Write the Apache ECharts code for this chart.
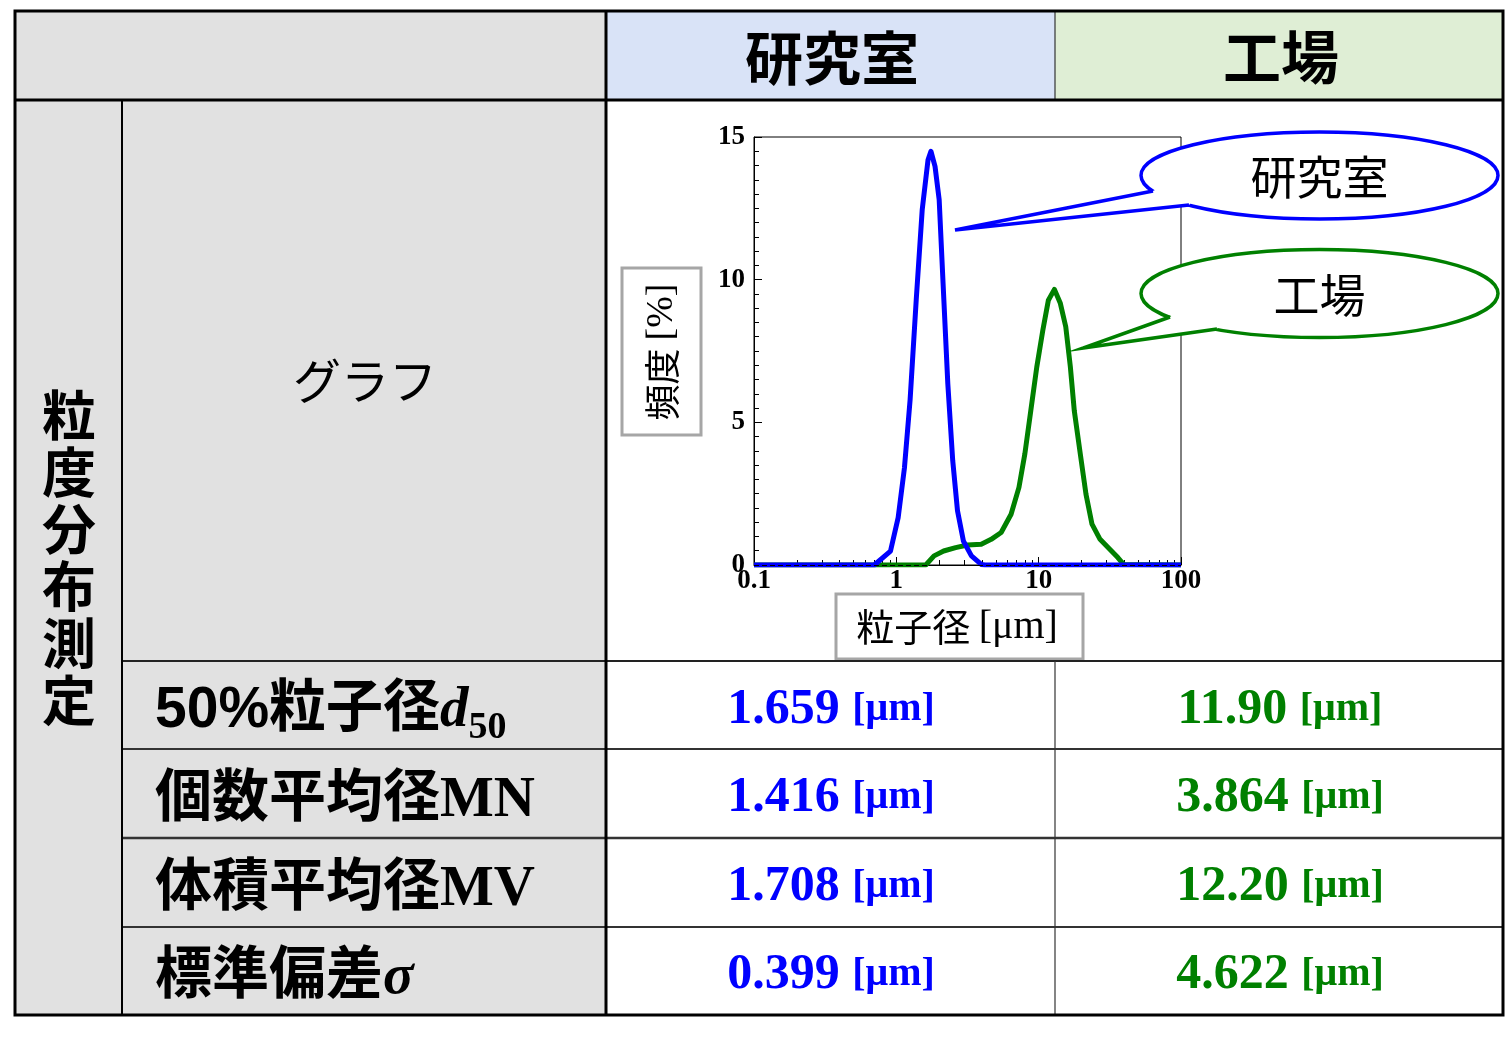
<!DOCTYPE html>
<html><head><meta charset="utf-8">
<script src="https://cdn.jsdelivr.net/npm/echarts@6/dist/echarts.min.js"></script>
<style>html,body{margin:0;padding:0;background:#fff}#c{width:1508px;height:1042px}</style>
</head><body><div id="c"></div>
<script>
// ---------------- data ----------------
const columnHeaders = ['研究室', '工場'];
const groupLabel = '粒度分布測定';
const graphLabel = 'グラフ';
const rowLabels = [
  '{n|50%}{k|粒子径}{i|d}{s|50}',
  '{k|個数平均径}{r|MN}',
  '{k|体積平均径}{r|MV}',
  '{k|標準偏差}{i|σ}'
];
const labValues = ['1.659', '1.416', '1.708', '0.399'];
const factoryValues = ['11.90', '3.864', '12.20', '4.622'];
const valueUnit = '[μm]';

const xAxisTitle = ['粒子径', '[μm]'];
const yAxisTitle = ['頻度', '[%]'];
const xTickValues = [0.1, 1, 10, 100];
const xMinorTickValues = [0.2,0.3,0.4,0.5,0.6,0.7,0.8,0.9,2,3,4,5,6,7,8,9,20,30,40,50,60,70,80,90];
const yTickValues = [0, 5, 10, 15];

// 研究室 (lab) distribution
const labSize = [0.1, 0.5, 0.70, 0.91, 1.03, 1.14, 1.25, 1.38, 1.52, 1.67, 1.75, 1.87, 2.0, 2.13, 2.30, 2.49, 2.69, 2.96, 3.37, 3.95, 4.2, 100];
const labFreq = [0, 0, 0, 0.49, 1.66, 3.4, 5.8, 9.3, 12.45, 14.2, 14.5, 13.97, 12.8, 9.87, 6.35, 3.66, 1.9, 0.84, 0.32, 0.02, 0, 0];
// 工場 (factory) distribution
const factorySize = [0.1, 1.61, 1.84, 2.15, 2.61, 3.16, 3.95, 4.64, 5.45, 6.4, 7.27, 8.0, 8.8, 9.7, 10.7, 11.7, 12.9, 14.2, 15.5, 16.7, 17.8, 19.6, 21.5, 23.7, 27.0, 31.6, 36, 39.5, 100];
const factoryFreq = [0, 0, 0.32, 0.49, 0.61, 0.70, 0.73, 0.90, 1.14, 1.78, 2.72, 3.9, 5.4, 6.94, 8.23, 9.28, 9.66, 9.17, 8.35, 6.94, 5.4, 3.9, 2.48, 1.43, 0.90, 0.55, 0.26, 0.02, 0];

// ---------------- styling / layout ----------------
const BLUE = '#0000ff', GREEN = '#008000';
const CJK = '"Noto Sans CJK JP"';
const SERIF = '"Liberation Serif", "Times New Roman", serif';
const GRAY_BG = '#e1e1e1', BLUE_BG = '#d9e3f7', GREEN_BG = '#dfeed5';

const g = [];
function rect(x, y, w, h, fill, z) { g.push({ type: 'rect', z: z || 1, silent: true, shape: { x, y, width: w, height: h }, style: { fill, stroke: null } }); }
function line(x1, y1, x2, y2, w, col) { g.push({ type: 'line', z: 60, silent: true, shape: { x1, y1, x2, y2 }, style: { stroke: col || '#000', lineWidth: w } }); }
function text(x, y, t, style, extra) {
  g.push(Object.assign({ type: 'text', z: 70, silent: true, x, y,
    style: Object.assign({ text: t, fill: '#000', align: 'center', verticalAlign: 'middle' }, style) }, extra || {}));
}

// backgrounds
rect(15, 11, 591, 89, GRAY_BG);
rect(606, 11, 449, 89, BLUE_BG);
rect(1055, 11, 448, 89, GREEN_BG);
rect(15, 100, 591, 915, GRAY_BG);

// table lines
line(122, 661, 1503, 661, 2, '#222');
line(122, 749, 1503, 749, 2, '#333');
line(122, 838, 1503, 838, 2.5, '#333');
line(122, 927, 1503, 927, 2, '#333');
line(1055, 11, 1055, 100, 1.2, '#333');
line(1055, 661, 1055, 1015, 1.2, '#333');
line(122, 100, 122, 1015, 2, '#000');
line(15, 100, 1503, 100, 3, '#000');
line(606, 11, 606, 1015, 3, '#000');
g.push({ type: 'rect', z: 61, silent: true, shape: { x: 15, y: 11, width: 1488, height: 1004 }, style: { fill: null, stroke: '#000', lineWidth: 3 } });

// header texts
text(832, 58, columnHeaders[0], { font: 'bold 58px ' + CJK });
text(1281, 57, columnHeaders[1], { font: 'bold 58px ' + CJK });
text(365, 381, graphLabel, { font: '48px ' + CJK });
text(69, 558, groupLabel.split('').join('\n'), { font: 'bold 54px ' + CJK, lineHeight: 57 });

// row labels
const rowCenters = [717, 807, 896, 984];
const richLabel = {
  n: { fontFamily: '"Liberation Sans", Arial, sans-serif', fontWeight: 'bold', fontSize: 57, lineHeight: 60, verticalAlign: 'bottom', padding: [0, 0, 7, 0] },
  k: { fontFamily: CJK, fontWeight: 'bold', fontSize: 57, lineHeight: 60, verticalAlign: 'bottom', padding: [0, 0, 14, 0] },
  i: { fontFamily: SERIF, fontWeight: 'bold', fontStyle: 'italic', fontSize: 57, lineHeight: 60, verticalAlign: 'bottom', padding: [0, 0, 7, 0] },
  r: { fontFamily: SERIF, fontWeight: 'bold', fontSize: 57, lineHeight: 60, verticalAlign: 'bottom', padding: [0, 0, 7, 0] },
  s: { fontFamily: SERIF, fontWeight: 'bold', fontSize: 38, lineHeight: 40, verticalAlign: 'bottom' }
};
rowLabels.forEach((t, i) => {
  text(155, rowCenters[i], t, { align: 'left', rich: richLabel });
});

// values
function valueRich(col) {
  return {
    v: { fontFamily: SERIF, fontWeight: 'bold', fontSize: 50, fill: col },
    u: { fontFamily: SERIF, fontWeight: 'bold', fontSize: 40, fill: col }
  };
}
const valueCenters = [710, 798, 887, 975];
labValues.forEach((v, i) => text(831, valueCenters[i], '{v|' + v + ' }{u|' + valueUnit + '}', { rich: valueRich(BLUE) }));
factoryValues.forEach((v, i) => text(1280, valueCenters[i], '{v|' + v + ' }{u|' + valueUnit + '}', { rich: valueRich(GREEN) }));

// axis title boxes
g.push({ type: 'rect', z: 50, silent: true, shape: { x: 622, y: 268, width: 79, height: 167 }, style: { fill: '#fff', stroke: '#a6a6a6', lineWidth: 3 } });
text(662, 352, '{k|' + yAxisTitle[0] + ' }{r|' + yAxisTitle[1] + '}', { rich: { k: { fontFamily: CJK, fontSize: 36 }, r: { fontFamily: SERIF, fontSize: 38 } } }, { rotation: Math.PI / 2 });
g.push({ type: 'rect', z: 50, silent: true, shape: { x: 836, y: 594, width: 247, height: 65 }, style: { fill: '#fff', stroke: '#a6a6a6', lineWidth: 3 } });
text(957, 627, '{k|' + xAxisTitle[0] + ' }{r|' + xAxisTitle[1] + '}', { rich: { k: { fontFamily: CJK, fontSize: 38 }, r: { fontFamily: SERIF, fontSize: 40 } } });

// speech bubbles
function bubble(cx, cy, rx, ry, tip, b1, b2, col, label) {
  g.push({ type: 'ellipse', z: 100, silent: true, shape: { cx, cy, rx, ry }, style: { fill: '#fff', stroke: col, lineWidth: 3.5 } });
  const in1 = [b1[0] + (cx - b1[0]) * 0.06, b1[1] + (cy - b1[1]) * 0.3];
  const in2 = [b2[0] + (cx - b2[0]) * 0.06, b2[1] + (cy - b2[1]) * 0.3];
  g.push({ type: 'polygon', z: 101, silent: true, shape: { points: [tip, b1, in1, in2, b2] }, style: { fill: '#fff', stroke: null } });
  g.push({ type: 'polyline', z: 102, silent: true, shape: { points: [b1, tip, b2] }, style: { fill: null, stroke: col, lineWidth: 3.5, lineJoin: 'miter' } });
  g.push({ type: 'text', z: 103, silent: true, x: cx, y: cy + 1, style: { text: label, font: '46px ' + CJK, fill: '#000', align: 'center', verticalAlign: 'middle' } });
}
bubble(1319.5, 175.5, 178.5, 43.5, [955, 230], [1153, 191], [1189, 205], BLUE, columnHeaders[0]);
bubble(1319.5, 293.5, 178.5, 44, [1083, 348], [1170, 317], [1217, 329], GREEN, columnHeaders[1]);

// ---------------- chart ----------------
const zip = (xs, ys) => xs.map((x, i) => [x, ys[i]]);
const tickFont = { fontFamily: SERIF, fontWeight: 'bold', fontSize: 27, color: '#000' };

const chart = echarts.init(document.getElementById('c'), null, { renderer: 'canvas' });
chart.setOption({
  animation: false,
  backgroundColor: '#fff',
  grid: { left: 754, top: 137, width: 427, height: 428, show: true, borderColor: '#000', borderWidth: 1, backgroundColor: 'transparent', containLabel: false, outerBoundsMode: 'none' },
  xAxis: [
    { type: 'log', logBase: 10, min: 0.1, max: 100, position: 'bottom',
      axisLine: { show: true, lineStyle: { color: '#000', width: 1 } },
      axisTick: { show: true, inside: true, length: 8, lineStyle: { color: '#000' }, customValues: xTickValues },
      axisLabel: { show: true, margin: 3, ...tickFont, customValues: xTickValues, formatter: v => String(+(+v).toPrecision(3)) },
      splitLine: { show: false }, minorTick: { show: false } },
    { type: 'log', logBase: 10, min: 0.1, max: 100, position: 'bottom',
      axisLine: { show: false },
      axisTick: { show: true, inside: true, length: 5, lineStyle: { color: '#000' }, customValues: xMinorTickValues },
      axisLabel: { show: false }, splitLine: { show: false } }
  ],
  yAxis: {
    type: 'value', min: yTickValues[0], max: yTickValues[yTickValues.length - 1], interval: 5,
    axisLine: { show: true, lineStyle: { color: '#000', width: 1 } },
    axisTick: { show: true, inside: true, length: 8, lineStyle: { color: '#000' } },
    minorTick: { show: true, splitNumber: 10, length: 5, lineStyle: { color: '#000' } },
    axisLabel: { margin: 9, ...tickFont },
    splitLine: { show: false }
  },
  series: [
    { name: columnHeaders[1], type: 'line', xAxisIndex: 0, data: zip(factorySize, factoryFreq), showSymbol: false, symbol: 'none', z: 3,
      lineStyle: { color: GREEN, width: 5, join: 'round' }, itemStyle: { color: GREEN } },
    { name: columnHeaders[0], type: 'line', xAxisIndex: 0, data: zip(labSize, labFreq), showSymbol: false, symbol: 'none', z: 4,
      lineStyle: { color: BLUE, width: 5, join: 'round' }, itemStyle: { color: BLUE },
      markLine: { silent: true, symbol: ['none', 'none'], label: { show: false }, data: [{ yAxis: 0 }],
        lineStyle: { color: '#000', type: [5, 3], width: 1 } } }
  ],
  graphic: { elements: g }
});
</script>
</body></html>
